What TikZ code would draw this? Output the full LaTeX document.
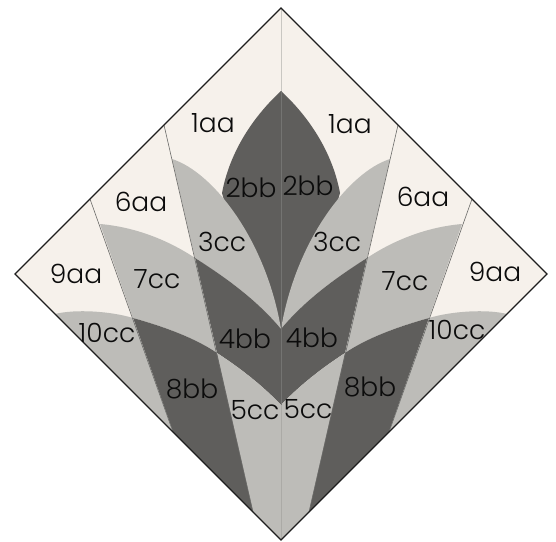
\documentclass[tikz,border=0pt]{standalone}
\usepackage{fontspec}
\setmainfont{Poppins}[UprightFont=* Light]
\definecolor{creamc}{HTML}{F6F1EB}
\definecolor{lightc}{HTML}{BDBCB8}
\definecolor{darkc}{HTML}{5F5E5C}
\definecolor{rulec}{HTML}{6A6A68}
\definecolor{edgec}{HTML}{1E1E1E}
\definecolor{textc}{HTML}{0C0C0C}
\tikzset{
  lab/.style={font=\fontsize{26.5}{26.5}\selectfont, text=textc, inner sep=0pt, anchor=center},
  seam/.style={draw=rulec, line width=0.6pt},
  outlinepath/.style={draw=edgec, line width=1.2pt, line join=miter},
}
\newcommand{\halfshape}{%
  \fill[creamc] (0,8) -- (-266,274) -- (0,540) -- cycle;
  % 2bb, its lower part lies under 3cc
  \fill[darkc] (0,91) .. controls (-26,115) and (-51,150) .. (-59,193)
    -- (-40,260) -- (-8,310) -- (0,329) -- cycle;
  % 3cc
  \fill[lightc] (-109,159) .. controls (-68,172) and (-15,240) .. (0,329)
    .. controls (-24,300) and (-56,277) .. (-86,258) -- cycle;
  % 4bb
  \fill[darkc] (-86,258) .. controls (-56,277) and (-24,300) .. (0,329) -- (0,405)
    .. controls (-19,385) and (-41,368) .. (-64,353) -- cycle;
  % 7cc
  \fill[lightc] (-181,224) .. controls (-146,227) and (-113,240) .. (-86,258)
    -- (-64,353) .. controls (-86,338) and (-116,327) .. (-148,318) -- cycle;
  % 5cc
  \fill[lightc] (-64,353) .. controls (-41,368) and (-19,385) .. (0,405)
    -- (0,540) -- (-28,512) -- cycle;
  % 8bb
  \fill[darkc] (-148,318) .. controls (-116,327) and (-86,338) .. (-64,353)
    -- (-28,512) -- (-108,432) -- cycle;
  % 10cc
  \fill[lightc] (-226,314) .. controls (-206,309) and (-171,311) .. (-148,318)
    -- (-108,432) -- cycle;
  % seams
  \draw[seam] (-117,125) -- (-28,512);
  \draw[seam] (-191,199) -- (-108,432);
}
\begin{document}
\begin{tikzpicture}[x=1pt,y=-1pt]
\useasboundingbox (0,0) rectangle (556,541);
\fill[white] (0,0) rectangle (556,541);
\begin{scope}[shift={(281,0)}]
  \halfshape
\end{scope}
\begin{scope}[shift={(281,0)},xscale=-1]
  \halfshape
\end{scope}
% axis
\draw[line width=0.9pt,draw={rgb,255:red,201;green,199;blue,194}] (281,8) -- (281,91);
\draw[line width=0.9pt,draw={rgb,255:red,116;green,116;blue,114}] (281,91) -- (281,405);
\draw[line width=0.9pt,draw={rgb,255:red,171;green,170;blue,166}] (281,405) -- (281,540);
% outline
\draw[outlinepath] (281,8) -- (547,274) -- (281,540) -- (15,274) -- cycle;
% labels
\node[lab] (a1l) at (213,123) {1aa};
\node[lab] (a1r) at (350,124) {1aa};
\node[lab] (b2l) at (251,188) {2bb};
\node[lab] (b2r) at (308,186) {2bb};
\node[lab] (c3l) at (222,242) {3cc};
\node[lab] (c3r) at (337,242) {3cc};
\node[lab] (a6l) at (141,202) {6aa};
\node[lab] (a6r) at (423,197) {6aa};
\node[lab] (a9l) at (76,274) {9aa};
\node[lab] (a9r) at (495,272) {9aa};
\node[lab] (c7l) at (157,279) {7cc};
\node[lab] (c7r) at (405,281) {7cc};
\node[lab] (c10l) at (107,333) {10cc};
\node[lab] (c10r) at (457,330) {10cc};
\node[lab] (b4l) at (245,339) {4bb};
\node[lab] (b4r) at (312,338) {4bb};
\node[lab] (b8l) at (192,389) {8bb};
\node[lab] (b8r) at (370,387) {8bb};
\node[lab] (c5l) at (255,410) {5cc};
\node[lab] (c5r) at (308,409) {5cc};
\end{tikzpicture}
\end{document}
